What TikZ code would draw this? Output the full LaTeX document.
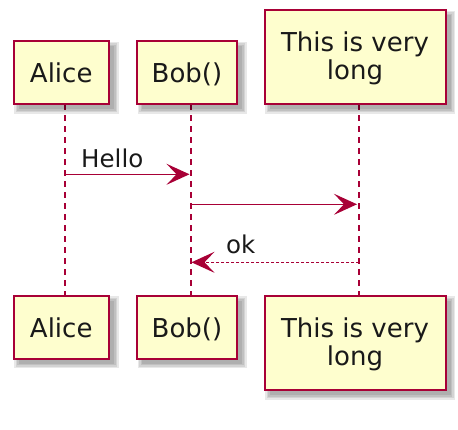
\documentclass[tikz,border=0pt]{standalone}
\usepackage{fontspec}
\setmainfont{DejaVu Sans}
\usetikzlibrary{arrows.meta,calc}
\definecolor{pborder}{HTML}{A80036}
\definecolor{pfill}{HTML}{FEFECE}
\pgfdeclarelayer{bg}
\pgfsetlayers{bg,main}
\begin{document}
\begin{tikzpicture}[x=1pt,y=-1pt,
  pbox/.style={draw=pborder, fill=pfill, line width=2pt, inner sep=0pt, rectangle},
  ptext/.style={inner sep=0pt, anchor=base, font=\fontsize{26}{28}\selectfont, text=black!90},
  mtext/.style={inner sep=0pt, anchor=base west, font=\fontsize{24.5}{28}\selectfont, text=black!90},
  lifeline/.style={draw=pborder, line width=1.5pt, dash pattern=on 6pt off 5pt},
  msg/.style={draw=pborder, line width=1.5pt, -{Stealth[length=23pt,width=21pt,inset=10pt]}},
  reply/.style={msg, dash pattern=on 3pt off 2pt},
  shad/.style={fill=black, opacity=0.09}
]
\useasboundingbox (0,0) rectangle (458,430);

% participant boxes (top)
\node[pbox, minimum width=95.5pt, minimum height=63pt] (aT) at (61.25,73) {};
\node[pbox, minimum width=100pt, minimum height=63pt] (bT) at (187,73) {};
\node[pbox, minimum width=181pt, minimum height=94pt] (lT) at (355,57.5) {};
% participant boxes (bottom)
\node[pbox, minimum width=95.5pt, minimum height=63pt] (aB) at (61.25,327.5) {};
\node[pbox, minimum width=100pt, minimum height=63pt] (bB) at (187,327.5) {};
\node[pbox, minimum width=181pt, minimum height=94pt] (lB) at (355,343) {};

% texts
\node[ptext] (aTt) at (61.25,83) {Alice};
\node[ptext] (bTt) at (187,83) {Bob()};
\node[ptext] (lTt1) at (355,52) {This is very};
\node[ptext] (lTt2) at (355,80) {long};
\node[ptext] (aBt) at (61.25,337.5) {Alice};
\node[ptext] (bBt) at (187,337.5) {Bob()};
\node[ptext] (lBt1) at (355,337.5) {This is very};
\node[ptext] (lBt2) at (355,365.5) {long};

% lifeline end points
\coordinate (aL1) at (65,104.5);  \coordinate (aL2) at (65,296);
\coordinate (bL1) at (191,104.5); \coordinate (bL2) at (191,296);
\coordinate (lL1) at (359,104.5); \coordinate (lL2) at (359,296);

\begin{pgfonlayer}{bg}
  \draw[lifeline] (aL1) -- (aL2);
  \draw[lifeline] (bL1) -- (bL2);
  \draw[lifeline] (lL1) -- (lL2);
  \foreach \b in {aT,bT,lT,aB,bB,lB}{
    \foreach \g in {3.5,2,0.5,-1}{
      \fill[shad] ($(\b.north west)+({5-(\g)},{5-(\g)})$) rectangle ($(\b.south east)+({5+(\g)},{5+(\g)})$);
    }
  }
\end{pgfonlayer}

% messages
\coordinate (m1s) at (65,174.3);  \coordinate (m1e) at (189.5,174.3);
\coordinate (m2s) at (191,204.3); \coordinate (m2e) at (357,204.3);
\coordinate (m3s) at (359,262.3); \coordinate (m3e) at (191.5,262.3);

\draw[msg] (m1s) -- (m1e);
\node[mtext] (hello) at (81,167.3) {Hello};
\draw[msg] (m2s) -- (m2e);
\draw[reply] (m3s) -- (m3e);
\node[mtext] (ok) at (226,254) {ok};
\end{tikzpicture}
\end{document}
